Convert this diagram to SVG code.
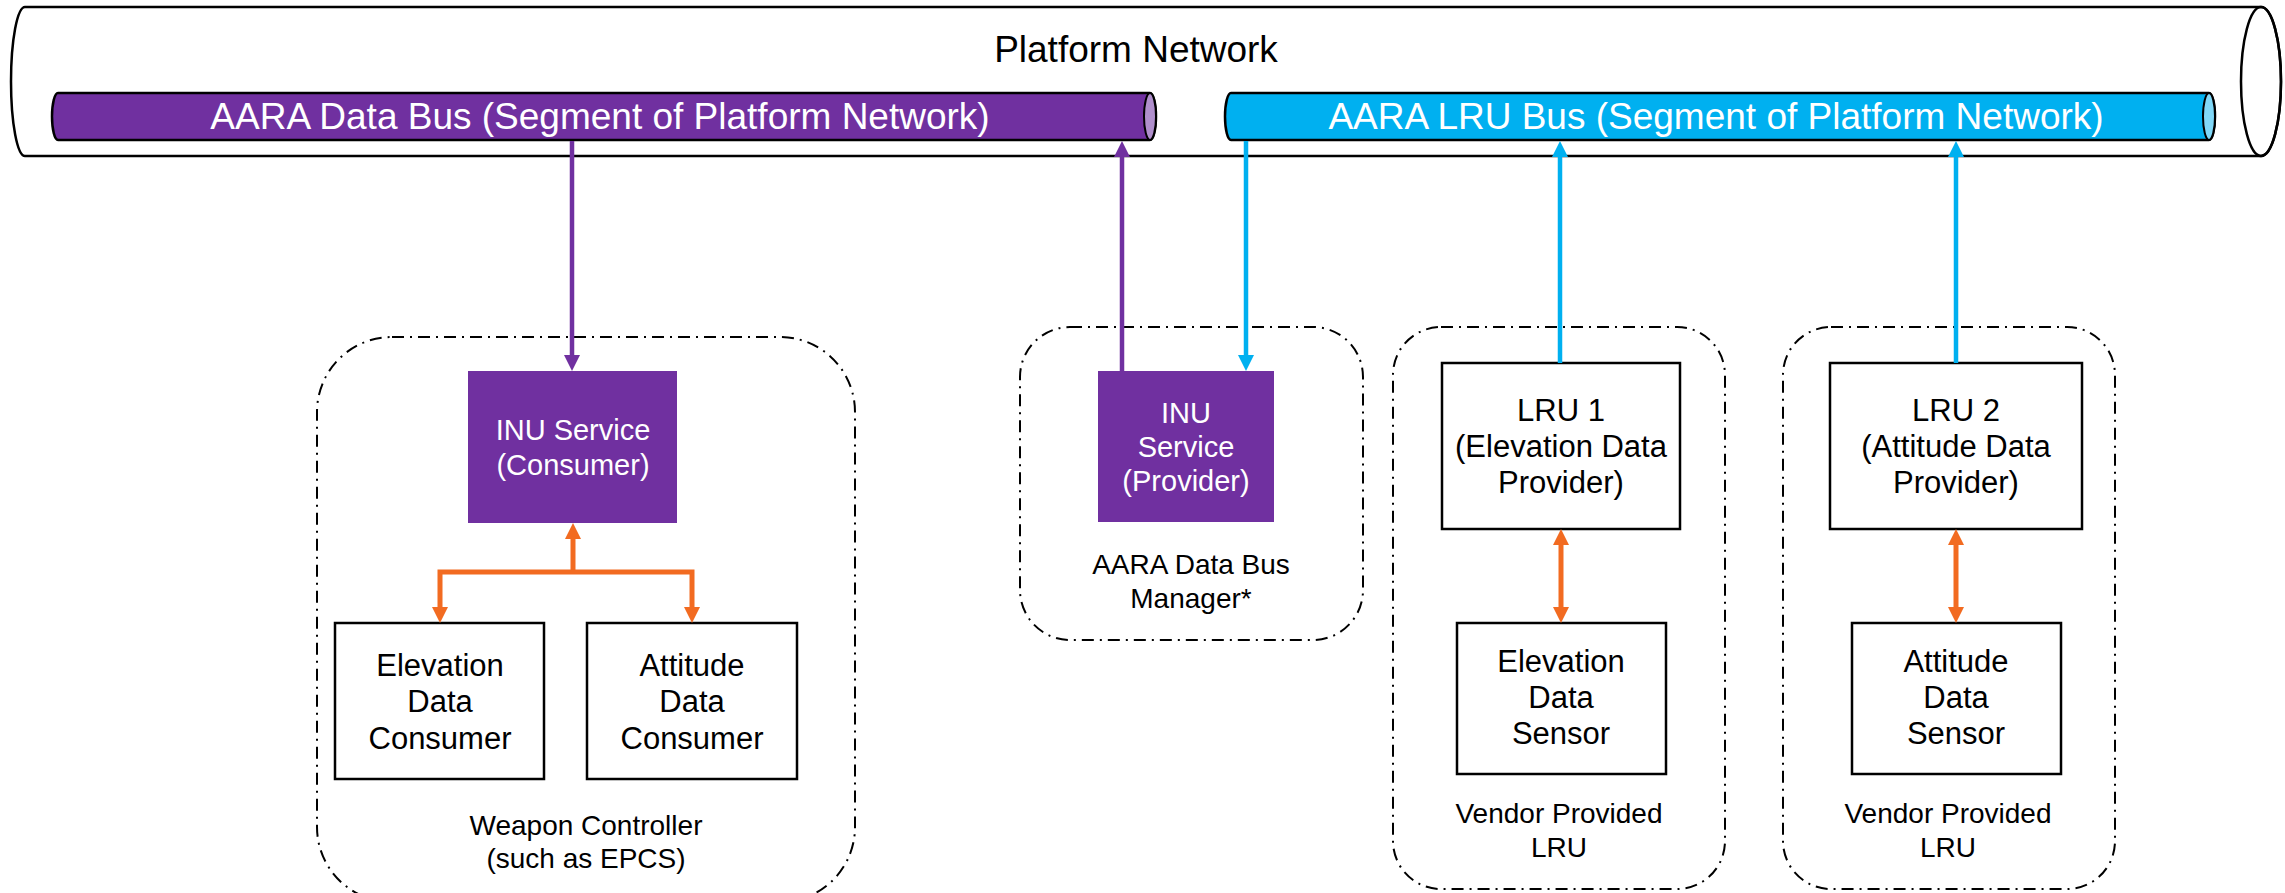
<svg xmlns="http://www.w3.org/2000/svg" width="2285" height="893" viewBox="0 0 2285 893">
<style>
text{font-family:"Liberation Sans",Arial,sans-serif;text-anchor:middle;fill:#000}
.bus{font-size:37px;fill:#fff}
.big{font-size:37px}
.w{fill:#fff;font-size:29px}
.b{font-size:31px}
.cap{font-size:28px}
.box{fill:#fff;stroke:#000;stroke-width:2.5}
.svc{fill:#7030A0}
.grp{fill:none;stroke:#000;stroke-width:2;stroke-dasharray:12 6 2 6}
.pl{stroke:#7030A0;stroke-width:4.5;fill:none}
.cl{stroke:#00B0F0;stroke-width:4.5;fill:none}
.ol{stroke:#F26B21;stroke-width:5;fill:none}
</style>
<defs>
<marker id="ap" markerUnits="userSpaceOnUse" markerWidth="17" markerHeight="17" refX="4" refY="8" orient="auto-start-reverse"><path d="M0,0 L16,8 L0,16 Z" fill="#7030A0"/></marker>
<marker id="ac" markerUnits="userSpaceOnUse" markerWidth="17" markerHeight="17" refX="4" refY="8" orient="auto-start-reverse"><path d="M0,0 L16,8 L0,16 Z" fill="#00B0F0"/></marker>
<marker id="ao" markerUnits="userSpaceOnUse" markerWidth="17" markerHeight="17" refX="4" refY="8" orient="auto-start-reverse"><path d="M0,0 L16,8 L0,16 Z" fill="#F26B21"/></marker>
</defs>
<g id="platform-network">
<path d="M25,7 H2261 A20,74.5 0 0 1 2261,156 H25 A14,74.5 0 0 1 25,7 Z" fill="#fff" stroke="#000" stroke-width="2.5"/>
<ellipse cx="2261" cy="81.5" rx="20" ry="74.5" fill="none" stroke="#000" stroke-width="2.5"/>
<text class="big" x="1136" y="62">Platform Network</text>
</g>
<g id="aara-data-bus">
<path d="M58,93 H1150 A6,23.5 0 0 1 1150,140 H58 A6,23.5 0 0 1 58,93 Z" fill="#7030A0" stroke="#000" stroke-width="2.5"/>
<ellipse cx="1150" cy="116.5" rx="6" ry="23.5" fill="#B08FCC" stroke="#000" stroke-width="2"/>
<text class="bus" x="600" y="129">AARA Data Bus (Segment of Platform Network)</text>
</g>
<g id="aara-lru-bus">
<path d="M1231,93 H2209 A6,23.5 0 0 1 2209,140 H1231 A6,23.5 0 0 1 1231,93 Z" fill="#00B0F0" stroke="#000" stroke-width="2.5"/>
<ellipse cx="2209" cy="116.5" rx="6" ry="23.5" fill="#80D8F8" stroke="#000" stroke-width="2"/>
<text class="bus" x="1716" y="129">AARA LRU Bus (Segment of Platform Network)</text>
</g>
<g id="weapon-controller">
<rect class="grp" x="317" y="337" width="538" height="565" rx="75"/>
<text class="cap" x="586" y="835">Weapon Controller</text>
<text class="cap" x="586" y="868">(such as EPCS)</text>
</g>
<g id="inu-consumer">
<rect class="svc" x="468" y="371" width="209" height="152"/>
<text class="w" x="573" y="440">INU Service</text>
<text class="w" x="573" y="475">(Consumer)</text>
</g>
<g id="elevation-consumer">
<rect class="box" x="335" y="623" width="209" height="156"/>
<text class="b" x="440" y="676">Elevation</text>
<text class="b" x="440" y="712">Data</text>
<text class="b" x="440" y="749">Consumer</text>
</g>
<g id="attitude-consumer">
<rect class="box" x="587" y="623" width="210" height="156"/>
<text class="b" x="692" y="676">Attitude</text>
<text class="b" x="692" y="712">Data</text>
<text class="b" x="692" y="749">Consumer</text>
</g>
<g id="bus-manager">
<rect class="grp" x="1020" y="327" width="343" height="313" rx="50"/>
<text class="cap" x="1191" y="574">AARA Data Bus</text>
<text class="cap" x="1191" y="608">Manager*</text>
</g>
<g id="inu-provider">
<rect class="svc" x="1098" y="371" width="176" height="151"/>
<text class="w" x="1186" y="423">INU</text>
<text class="w" x="1186" y="457">Service</text>
<text class="w" x="1186" y="491">(Provider)</text>
</g>
<g id="vendor-lru-1">
<rect class="grp" x="1393" y="327" width="332" height="562" rx="48"/>
<text class="cap" x="1559" y="823">Vendor Provided</text>
<text class="cap" x="1559" y="857">LRU</text>
</g>
<g id="lru1">
<rect class="box" x="1442" y="363" width="238" height="166"/>
<text class="b" x="1561" y="421">LRU 1</text>
<text class="b" x="1561" y="457">(Elevation Data</text>
<text class="b" x="1561" y="493">Provider)</text>
</g>
<g id="elevation-sensor">
<rect class="box" x="1457" y="623" width="209" height="151"/>
<text class="b" x="1561" y="672">Elevation</text>
<text class="b" x="1561" y="708">Data</text>
<text class="b" x="1561" y="744">Sensor</text>
</g>
<g id="vendor-lru-2">
<rect class="grp" x="1783" y="327" width="332" height="562" rx="48"/>
<text class="cap" x="1948" y="823">Vendor Provided</text>
<text class="cap" x="1948" y="857">LRU</text>
</g>
<g id="lru2">
<rect class="box" x="1830" y="363" width="252" height="166"/>
<text class="b" x="1956" y="421">LRU 2</text>
<text class="b" x="1956" y="457">(Attitude Data</text>
<text class="b" x="1956" y="493">Provider)</text>
</g>
<g id="attitude-sensor">
<rect class="box" x="1852" y="623" width="209" height="151"/>
<text class="b" x="1956" y="672">Attitude</text>
<text class="b" x="1956" y="708">Data</text>
<text class="b" x="1956" y="744">Sensor</text>
</g>
<g id="connectors">
<path class="pl" d="M572,141 V359" marker-end="url(#ap)"/>
<path class="pl" d="M1122,371 V153" marker-end="url(#ap)"/>
<path class="cl" d="M1246,141 V359" marker-end="url(#ac)"/>
<path class="cl" d="M1560,363 V153" marker-end="url(#ac)"/>
<path class="cl" d="M1956,363 V153" marker-end="url(#ac)"/>
<path class="ol" d="M573,574 V535" marker-end="url(#ao)"/>
<path class="ol" d="M573,572 H440 V611" marker-end="url(#ao)"/>
<path class="ol" d="M573,572 H692 V611" marker-end="url(#ao)"/>
<path class="ol" d="M1561,541 V611" marker-start="url(#ao)" marker-end="url(#ao)"/>
<path class="ol" d="M1956,541 V611" marker-start="url(#ao)" marker-end="url(#ao)"/>
</g>
</svg>
